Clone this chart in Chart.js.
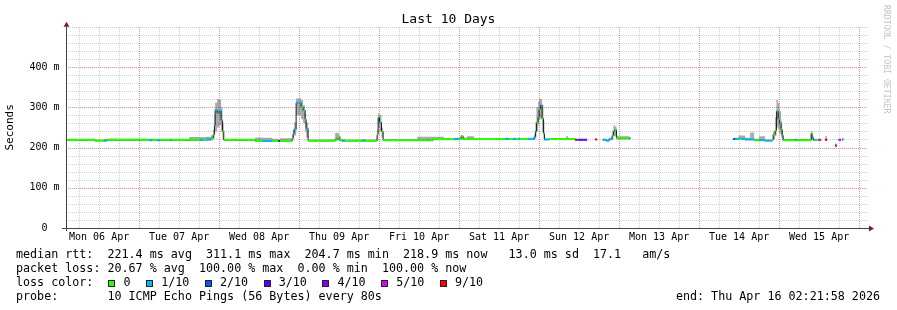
<!DOCTYPE html>
<html>
<head>
<meta charset="utf-8">
<script src="https://cdn.jsdelivr.net/npm/chart.js@4.4.1/dist/chart.umd.min.js"></script>
<style>
  body { margin: 0; background: #fff; }
  #wrap { position: relative; width: 897px; height: 310px; overflow: hidden; background: #fff;
          font-family: "DejaVu Sans Mono", monospace; color: #000; }
  #chart { position: absolute; left: 0; top: 0; }
  .title { position: absolute; left: 0; top: 11px; width: 897px; text-align: center; font-size: 13px; line-height: 16px; }
  .legend { position: absolute; left: 16px; font-size: 11.7px; line-height: 14px; white-space: pre; }
  .end { position: absolute; right: 17px; top: 289px; font-size: 11.7px; line-height: 14px; white-space: pre; }
  .box { display: inline-block; box-sizing: border-box; width: 7px; height: 7px; border: 1px solid #222;
         margin-left: 1px; vertical-align: -0.5px; }
  .lbl { margin-left: 8px; margin-right: 14.6px; }
  .wm { position: absolute; left: 882px; top: 5px; writing-mode: vertical-rl; font-size: 8.2px; color: #c4c4c4; white-space: pre; }
</style>
</head>
<body>
<div id="wrap">
  <canvas id="chart" width="897" height="310"></canvas>
  <div class="title">Last 10 Days</div>
  <div class="legend" style="top:247px">median rtt:  221.4 ms avg  311.1 ms max  204.7 ms min  218.9 ms now   13.0 ms sd  17.1   am/s</div>
  <div class="legend" style="top:261px">packet loss: 20.67 % avg  100.00 % max  0.00 % min  100.00 % now</div>
  <div class="legend" id="lossLegend" style="top:275px">loss color:  </div>
  <div class="legend" style="top:289px">probe:       10 ICMP Echo Pings (56 Bytes) every 80s</div>
  <div class="end">end: Thu Apr 16 02:21:58 2026</div>
  <div class="wm">RRDTOOL / TOBI OETIKER</div>
</div>
<script>
// time axis in hours since Mon 06 Apr 00:00, window ends Thu Apr 16 02:21:58
const startHour = 2.366;
const endHour = 242.366;
const dayLabels = ['Mon 06 Apr', 'Tue 07 Apr', 'Wed 08 Apr', 'Thu 09 Apr', 'Fri 10 Apr',
                   'Sat 11 Apr', 'Sun 12 Apr', 'Mon 13 Apr', 'Tue 14 Apr', 'Wed 15 Apr'];

// loss levels (pings lost of 10) and their colours
const lossLevels = [0, 1, 2, 3, 4, 5, 9];
const lossNames  = ['0', '1/10', '2/10', '3/10', '4/10', '5/10', '9/10'];
const lossColors = ['#26ff00', '#00b8ff', '#0059ff', '#5e00ff', '#7e00ff', '#dd00ff', '#ff0000'];

// each entry starts an interval that lasts until the next hour value (null = no data)
const hours = [
  2.3, 10.8, 13.5, 14.4, 27.0, 27.9, 29.4, 30.3, 33.3, 33.7,
  39.0, 42.3, 43.2, 44.1, 45.6, 46.2, 46.6, 46.8, 47.4, 48.0,
  48.6, 49.0, 49.4, 58.8, 60.9, 63.9, 65.7, 66.3, 69.9, 70.2,
  70.5, 71.1, 72.6, 73.2, 73.8, 74.1, 74.7, 82.8, 83.4, 84.0,
  84.6, 84.9, 85.8, 90.9, 91.8, 95.4, 95.7, 96.1, 96.7, 97.2,
  107.4, 110.4, 110.7, 112.2, 115.5, 118.5, 120.0, 120.6, 121.2, 122.4,
  124.5, 133.8, 135.0, 136.2, 137.1, 137.7, 138.3, 140.7, 142.5, 142.9,
  143.2, 143.7, 144.0, 144.4, 144.9, 145.3, 145.6, 146.9, 152.1, 152.7,
  154.8, 155.4, 156.0, 156.9, 158.4, 160.8, 161.4, 163.1, 164.1, 165.0,
  165.9, 166.3, 166.7, 167.2, 171.0, 171.4, 202.2, 202.8, 203.8, 204.6,
  205.8, 207.3, 208.5, 210.0, 211.8, 213.9, 214.2, 214.8, 215.2, 215.7,
  216.1, 216.6, 216.9, 217.2, 220.8, 221.2, 225.6, 225.9, 226.3, 226.8,
  227.8, 228.6, 229.8, 230.4, 232.8, 233.3, 233.8, 234.6, 234.9, 235.3
];
// median rtt in ms
const rtt = [
  219, 217, 217, 219, 218, 219, 218, 219, 219, 219,
  219, 219, 219, 220, 223, 232, 255, 293, 285, 291,
  268, 240, 219, 216, 216, 216, 216, 216, 222, 235,
  245, 311, 300, 292, 270, 247, 217, 220, 224, 219,
  217, 217, 217, 217, 217, 232, 275, 262, 240, 218,
  218, 218, 218, 221, 221, 221, 222, 228, 222, 222,
  221, 221, 221, 221, 221, 221, 221, 221, 226, 240,
  262, 276, 295, 305, 272, 235, 220, 221, 221, 221,
  219, 219, 219, 219, null, 220, null, 219, 217, 221,
  230, 240, 244, 224, 223, null, 221, 221, 222, 221,
  220, 220, 218, 218, 217, 219, 232, 242, 290, 270,
  259, 245, 230, 218, 219, 218, 235, 224, 219, 219,
  219, null, 219, null, 205, null, 219, null, 220, null
];
// packets lost of 10
const loss = [
  0, 0, 1, 0, 1, 0, 1, 0, 1, 0,
  0, 1, 0, 1, 0, 0, 1, 1, 1, 1,
  1, 0, 0, 0, 1, 0, 3, 0, 0, 1,
  1, 1, 0, 1, 0, 1, 0, 0, 0, 0,
  0, 1, 0, 1, 0, 0, 0, 1, 0, 0,
  0, 1, 0, 0, 0, 1, 0, 0, 0, 0,
  0, 1, 0, 1, 0, 1, 0, 1, 1, 1,
  0, 1, 0, 1, 0, 0, 1, 0, 0, 0,
  9, 2, 3, 4, null, 9, null, 1, 1, 1,
  0, 1, 0, 0, 1, null, 2, 1, 0, 1,
  1, 1, 0, 1, 1, 0, 0, 0, 1, 0,
  1, 0, 1, 0, 1, 0, 0, 1, 1, 0,
  5, null, 9, null, 4, null, 5, null, 1, null
];
// smoke: lowest and highest ping rtt in ms
const smokeLo = [
  217, 216, 216, 217, 216, 217, 216, 217, 217, 217,
  217, 217, 217, 217, 218, 220, 230, 240, 250, 255,
  240, 222, 217, 215, 215, 215, 215, 215, 216, 225,
  230, 280, 270, 260, 240, 225, 215, 216, 218, 216,
  215, 215, 215, 215, 215, 220, 250, 240, 225, 216,
  216, 216, 216, 218, 218, 218, 219, 220, 219, 219,
  219, 219, 219, 219, 219, 219, 219, 219, 219, 225,
  240, 255, 270, 270, 240, 222, 218, 219, 219, 219,
  218, 218, 218, 218, null, 219, null, 217, 216, 218,
  220, 228, 228, 220, 220, null, 219, 219, 219, 219,
  218, 218, 216, 216, 216, 217, 220, 228, 250, 245,
  235, 225, 220, 217, 217, 217, 219, 219, 217, 217,
  218, null, 218, null, 200, null, 218, null, 216, null
];
const smokeHi = [
  221, 220, 221, 222, 222, 221, 222, 221, 222, 221,
  226, 226, 226, 227, 230, 245, 280, 311, 320, 318,
  300, 262, 221, 225, 224, 222, 220, 223, 230, 245,
  262, 322, 318, 305, 285, 262, 220, 236, 236, 228,
  220, 221, 220, 221, 220, 245, 285, 280, 250, 220,
  227, 227, 227, 227, 223, 224, 224, 230, 224, 228,
  223, 224, 223, 224, 223, 224, 223, 224, 232, 262,
  300, 315, 321, 320, 305, 265, 222, 223, 228, 223,
  221, 221, 221, 221, null, 221, null, 222, 220, 224,
  240, 255, 252, 228, 226, null, 223, 224, 230, 230,
  224, 237, 222, 228, 220, 222, 240, 275, 318, 310,
  290, 265, 245, 221, 222, 221, 241, 228, 221, 221,
  221, null, 228, null, 210, null, 221, null, 224, null
];

const gridColor = '#cdcdcd';
const mgridColor = '#f08c8c';
const fontFamily = '"DejaVu Sans Mono", monospace';

function colorFor(l) {
  return lossColors[lossLevels.indexOf(l)] || '#26ff00';
}

// step points: every interval holds its value until the next hour entry
function stepPoints(vals) {
  const pts = [];
  for (let i = 0; i < hours.length; i++) {
    const v = vals[i];
    if (v === null) { pts.push({x: hours[i], y: null}); continue; }
    pts.push({x: hours[i], y: v});
    if (i + 1 < hours.length && vals[i + 1] === null) pts.push({x: hours[i + 1], y: v});
  }
  return pts;
}

// loss coloured horizontal pieces of the median
const pieces = [];
const pieceLoss = [];
for (let i = 0; i < hours.length - 1; i++) {
  if (rtt[i] === null) continue;
  pieces.push({x: hours[i], y: rtt[i]}, {x: hours[i + 1], y: rtt[i]}, {x: hours[i + 1], y: null});
  pieceLoss.push(loss[i], loss[i], null);
}

// legend boxes
const lossLegend = document.getElementById('lossLegend');
lossNames.forEach((name, i) => {
  const b = document.createElement('span');
  b.className = 'box';
  b.style.background = lossColors[i];
  const t = document.createElement('span');
  t.className = 'lbl';
  t.textContent = name;
  lossLegend.appendChild(b);
  lossLegend.appendChild(t);
});

const tickHours = [];
for (let h = 6; h <= 240; h += 6) tickHours.push(h);
const yGrid = [];
for (let v = 20; v <= 500; v += 20) yGrid.push(v);

// dotted rrdtool style grid (one pixel on, one off), minor grey and major red
const gridPlugin = {
  id: 'rrdGrid',
  beforeDatasetsDraw(chart) {
    const {ctx, chartArea: a, scales: {x, y}} = chart;
    const left = Math.round(a.left), right = Math.round(a.right);
    const top = Math.round(a.top), bottom = Math.round(a.bottom);
    ctx.save();
    const vline = (px, col) => {
      ctx.fillStyle = col;
      for (let yy = top; yy < bottom; yy += 2) ctx.fillRect(px, yy, 1, 1);
    };
    const hline = (py, col) => {
      ctx.fillStyle = col;
      for (let xx = left + 1; xx < right; xx += 2) ctx.fillRect(xx, py, 1, 1);
    };
    tickHours.forEach(h => vline(Math.round(x.getPixelForValue(h)), h % 24 === 0 ? mgridColor : gridColor));
    yGrid.forEach(v => hline(Math.round(y.getPixelForValue(v)), v % 100 === 0 && v < 500 ? mgridColor : gridColor));
    ctx.restore();
  },
  afterDraw(chart) {
    const {ctx, chartArea: a} = chart;
    const x0 = Math.round(a.left) - 0.5;
    const y0 = Math.round(a.bottom) + 0.5;
    ctx.save();
    ctx.strokeStyle = '#444';
    ctx.lineWidth = 1;
    ctx.beginPath();
    ctx.moveTo(a.left - 5, y0);
    ctx.lineTo(a.right + 3, y0);
    ctx.moveTo(x0, a.bottom + 3);
    ctx.lineTo(x0, a.top - 1);
    ctx.stroke();
    ctx.fillStyle = '#7f1f1f';
    ctx.beginPath();
    ctx.moveTo(x0, a.top - 5);
    ctx.lineTo(x0 - 3, a.top);
    ctx.lineTo(x0 + 3, a.top);
    ctx.closePath();
    ctx.fill();
    ctx.beginPath();
    ctx.moveTo(a.right + 7, y0);
    ctx.lineTo(a.right + 2, y0 - 3);
    ctx.lineTo(a.right + 2, y0 + 3);
    ctx.closePath();
    ctx.fill();
    ctx.restore();
  }
};

new Chart(document.getElementById('chart'), {
  type: 'line',
  data: {
    datasets: [
      { label: 'smoke lo', data: stepPoints(smokeLo), stepped: 'before', borderWidth: 0,
        borderColor: 'rgba(0,0,0,0)', pointRadius: 0, fill: false, order: 3 },
      { label: 'smoke hi', data: stepPoints(smokeHi), stepped: 'before', borderWidth: 0,
        borderColor: 'rgba(0,0,0,0)', pointRadius: 0, fill: '-1',
        backgroundColor: 'rgba(100,100,100,0.55)', order: 3 },
      { label: 'median', data: stepPoints(rtt), stepped: 'before', borderWidth: 1,
        borderColor: '#1c1c1c', pointRadius: 0, fill: false, order: 2 },
      { label: 'loss', data: pieces, borderWidth: 2, pointRadius: 0, fill: false, order: 1,
        borderColor: '#26ff00',
        segment: { borderColor: c => colorFor(pieceLoss[c.p0DataIndex]) } }
    ]
  },
  options: {
    responsive: false,
    animation: false,
    events: [],
    layout: { padding: { top: 26.75, right: 30, left: 0, bottom: 0 } },
    plugins: { legend: { display: false }, tooltip: { enabled: false }, title: { display: false } },
    scales: {
      x: {
        type: 'linear',
        min: startHour,
        max: endHour,
        afterBuildTicks: s => { s.ticks = tickHours.map(v => ({ value: v })); },
        afterFit: s => { s.height = 82; },
        ticks: {
          autoSkip: false, maxRotation: 0, padding: 3, color: '#000',
          font: { family: fontFamily, size: 10 },
          callback: v => (v % 24 === 12 ? dayLabels[(v - 12) / 24] : '')
        },
        grid: { display: false, drawTicks: false },
        border: { display: false }
      },
      y: {
        min: 0,
        max: 500,
        afterFit: s => { s.width = 67; },
        ticks: {
          stepSize: 20, autoSkip: false, padding: 7.5, color: '#000',
          font: { family: fontFamily, size: 10 },
          callback: v => (v % 100 === 0 && v < 500 ? (v === 0 ? '0\u00a0\u00a0' : v + ' m') : '')
        },
        grid: { display: false, drawTicks: false },
        border: { display: false },
        title: { display: true, text: 'Seconds', color: '#000',
                 font: { family: fontFamily, size: 11 }, padding: { top: 3.5, bottom: 0 } }
      }
    }
  },
  plugins: [gridPlugin]
});
</script>
</body>
</html>
